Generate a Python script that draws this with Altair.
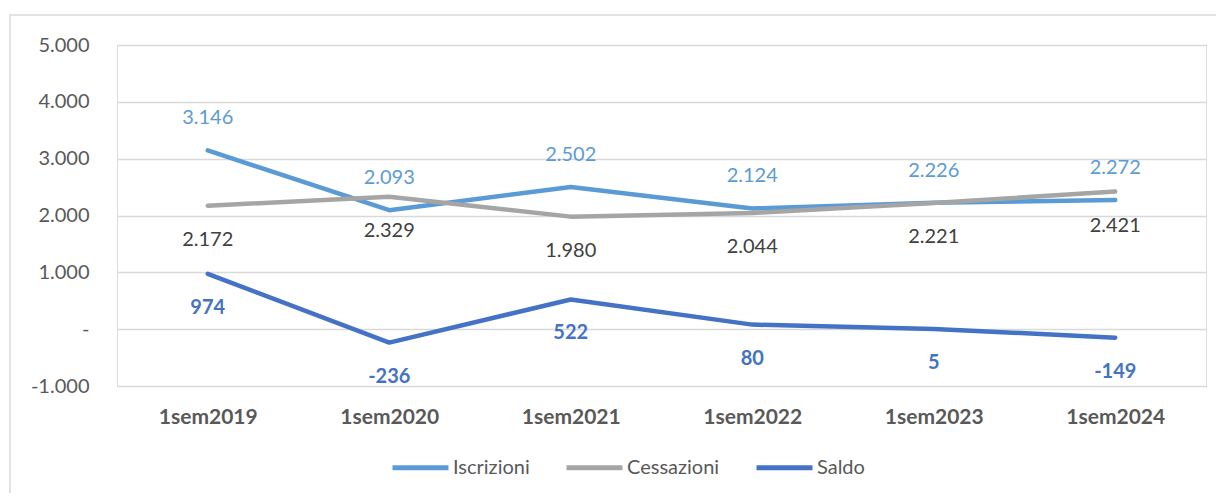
import altair as alt
import pandas as pd

categories = ["1sem2019", "1sem2020", "1sem2021", "1sem2022", "1sem2023", "1sem2024"]
iscrizioni = [3146, 2093, 2502, 2124, 2226, 2272]
cessazioni = [2172, 2329, 1980, 2044, 2221, 2421]
saldo = [974, -236, 522, 80, 5, -149]
series_names = ["Iscrizioni", "Cessazioni", "Saldo"]
series_colors = ["#5B9BD5", "#A5A5A5", "#4472C4"]

rows = []
for name, vals in zip(series_names, [iscrizioni, cessazioni, saldo]):
    for c, v in zip(categories, vals):
        rows.append({"cat": c, "serie": name, "val": v})
df = pd.DataFrame(rows)

FONT = "Lato"
LBL = "#595959"
FS = 20

base = alt.Chart(df).transform_calculate(
    lab="(datum.val < 0 ? '-' : '') + replace(format(abs(datum.val), ','), ',', '.')"
)

x = alt.X("cat:N", sort=categories, title=None,
          axis=alt.Axis(labelAngle=0, labelFont=FONT, labelFontSize=21, labelFontWeight="bold",
                        labelColor=LBL, labelPadding=20, domain=False, ticks=False, grid=False))
y = alt.Y("val:Q", title=None,
          scale=alt.Scale(domain=[-1000, 5000], nice=False, zero=False),
          axis=alt.Axis(values=[-1000, 0, 1000, 2000, 3000, 4000, 5000],
                        labelExpr="datum.value == 0 ? '-' : (datum.value < 0 ? '-' : '') + replace(format(abs(datum.value), ','), ',', '.')",
                        labelFont=FONT, labelFontSize=FS, labelColor=LBL, labelPadding=28,
                        domain=False, ticks=False, gridColor="#D9D9D9", gridWidth=1.5))

lines = base.mark_line(strokeWidth=4.5, strokeCap="round", strokeJoin="round").encode(
    x=x, y=y,
    color=alt.Color("serie:N", sort=series_names,
                    scale=alt.Scale(domain=series_names, range=series_colors),
                    legend=alt.Legend(title=None, orient="none", direction="horizontal",
                                      legendX=273, legendY=392, symbolType="stroke",
                                      symbolSize=3136, symbolStrokeWidth=5,
                                      labelFont=FONT, labelFontSize=FS, labelColor=LBL,
                                      labelOffset=2, columnPadding=26, padding=0)),
    detail="serie:N",
)

def labels(name, color, dy, weight="normal"):
    return base.transform_filter(alt.datum.serie == name).mark_text(
        dy=dy, font=FONT, fontSize=FS, color=color, fontWeight=weight
    ).encode(x=alt.X("cat:N", sort=categories), y="val:Q", text="lab:N")

lab_i = labels("Iscrizioni", "#5B9BD5", -32)
lab_c = labels("Cessazioni", "#404040", 34)
lab_s = labels("Saldo", "#4472C4", 34, "bold")

frame = alt.Chart(alt.Data(values=[{}])).mark_rect(
    fill="transparent", stroke="#D9D9D9", strokeWidth=1.5
).encode(x=alt.value(-107), y=alt.value(-30), x2=alt.value(1300), y2=alt.value(700))

chart = alt.layer(frame, lines, lab_i, lab_c, lab_s).properties(
    width=1089, height=341,
    autosize=alt.AutoSizeParams(type="none"),
    padding={"left": 109, "top": 37, "right": 10, "bottom": 107},
).configure_view(stroke="transparent", strokeWidth=0).configure(background="white")

chart.save("out.html", embed_options={"renderer": "svg", "actions": False})
